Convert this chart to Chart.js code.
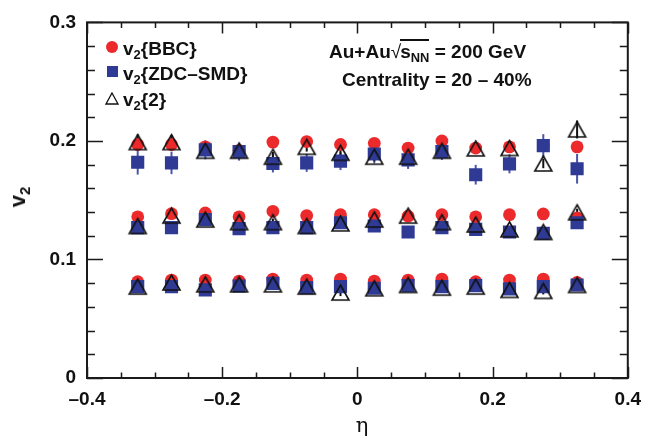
<!DOCTYPE html>
<html>
<head>
<meta charset="utf-8">
<script src="https://cdn.jsdelivr.net/npm/chart.js@4.4.1/dist/chart.umd.min.js"></script>
<style>
html, body { margin: 0; padding: 0; background: #fff; }
#wrap { position: relative; width: 651px; height: 438px; overflow: hidden; }
#chart { position: absolute; left: 0; top: 0; }
.t { position: absolute; font-family: "Liberation Sans", Arial, sans-serif; font-weight: bold;
     font-size: 19px; line-height: 1; color: #111; white-space: nowrap; }
.t sub { font-size: 0.68em; vertical-align: -0.32em; line-height: 0; }
.mk { position: absolute; }
.root { display: inline-block; border-top: 2px solid #111; padding-top: 1px; margin-left: -1px; line-height: 1; }
</style>
</head>
<body>
<div id="wrap">
  <canvas id="chart" width="651" height="438"></canvas>

  <div class="mk" style="left:106px;top:41px;width:12px;height:12px;border-radius:50%;background:#EC2A2C"></div>
  <div class="t" style="left:123px;top:39px">v<sub>2</sub>{BBC}</div>
  <div class="mk" style="left:107px;top:66px;width:11px;height:11px;background:#2F3A94"></div>
  <div class="t" style="left:123px;top:64px">v<sub>2</sub>{ZDC&#8211;SMD}</div>
  <svg class="mk" style="left:105px;top:92px" width="14" height="13"><polygon points="7,1 13,12 1,12" fill="none" stroke="#111" stroke-width="1.3"/></svg>
  <div class="t" style="left:123px;top:90px">v<sub>2</sub>{2}</div>

  <div class="t" style="left:329px;top:39px">Au+Au<span style="font-weight:normal">&#8730;</span><span class="root">s<sub>NN</sub></span> = 200 GeV</div>
  <div class="t" style="left:342px;top:70px">Centrality = 20 &#8211; 40%</div>

  <div class="t" style="left:18px;top:197px;font-size:22px;transform:translate(-50%,-50%) rotate(-90deg)">v<sub>2</sub></div>
  <div class="t" style="left:362px;top:425px;font-family:'DejaVu Serif','Liberation Serif',serif;font-weight:normal;font-size:21px;transform:translate(-50%,-50%)">&#951;</div>
</div>

<script>
// pseudorapidity bins
const eta = [-0.325, -0.275, -0.225, -0.175, -0.125, -0.075, -0.025, 0.025, 0.075, 0.125, 0.175, 0.225, 0.275, 0.325];

// v2{BBC}
const bbcHigh = [0.197, 0.197, 0.195, 0.192, 0.199, 0.1995, 0.197, 0.198, 0.194, 0.200, 0.194, 0.195, 0.196, 0.195];
const bbcMid  = [0.136, 0.1386, 0.1392, 0.136, 0.1406, 0.137, 0.1378, 0.1378, 0.1365, 0.1378, 0.136, 0.1378, 0.1384, 0.135];
const bbcLow  = [0.0812, 0.0826, 0.0826, 0.0818, 0.0834, 0.0826, 0.0834, 0.0818, 0.0826, 0.0834, 0.0812, 0.0826, 0.0834, 0.0806];

// v2{ZDC-SMD}
const zdcHigh = [0.182, 0.1815, 0.1925, 0.191, 0.181, 0.1815, 0.183, 0.189, 0.184, 0.191, 0.1715, 0.1807, 0.196, 0.1765];
const zdcMid  = [0.1268, 0.1268, 0.1337, 0.126, 0.1268, 0.1268, 0.131, 0.1282, 0.1232, 0.1268, 0.1254, 0.1232, 0.122, 0.131];
const zdcLow  = [0.0771, 0.0771, 0.0743, 0.0776, 0.0798, 0.0762, 0.0771, 0.0757, 0.0779, 0.0771, 0.0779, 0.0752, 0.0771, 0.0785];

// v2{2}
const twoHigh = [0.199, 0.199, 0.1917, 0.1917, 0.1867, 0.195, 0.190, 0.1867, 0.1867, 0.1917, 0.1937, 0.194, 0.181, 0.2097];
const twoMid  = [0.1282, 0.137, 0.1337, 0.1315, 0.1315, 0.1282, 0.1304, 0.1337, 0.137, 0.1315, 0.1295, 0.1254, 0.1232, 0.1398];
const twoLow  = [0.0771, 0.0806, 0.079, 0.079, 0.079, 0.0771, 0.0721, 0.0757, 0.0785, 0.0762, 0.0771, 0.0743, 0.0735, 0.0785];

// statistical errors
const bbcErr     = [0.003, 0.003, 0.003, 0.003, 0.003, 0.003, 0.003, 0.003, 0.003, 0.003, 0.003, 0.003, 0.003, 0.003];
const zdcErrHigh = [0.0104, 0.0095, 0.008, 0.0076, 0.0076, 0.0076, 0.0076, 0.008, 0.0076, 0.007, 0.0083, 0.008, 0.0097, 0.0125];
const zdcErrLow  = [0.004, 0.004, 0.004, 0.004, 0.004, 0.004, 0.004, 0.004, 0.004, 0.004, 0.004, 0.004, 0.004, 0.004];
const twoErrHigh = [0.0065, 0.006, 0.004, 0.004, 0.004, 0.004, 0.004, 0.004, 0.004, 0.004, 0.004, 0.004, 0.004, 0.0076];
const twoErrLow  = [0.003, 0.003, 0.003, 0.003, 0.003, 0.003, 0.003, 0.003, 0.003, 0.003, 0.003, 0.003, 0.003, 0.003];

// axis range and ticks
const xMin = -0.4, xMax = 0.4, xMajor = 0.2, xMinor = 0.05;
const yMin = 0, yMax = 0.3, yMajor = 0.1, yMinor = 0.02;

function points(vals, errs) {
  return vals.map((v, i) => ({ x: eta[i], y: v, e: errs[i] }));
}

function triangleMarker(w, h, lw) {
  const c = document.createElement('canvas');
  c.width = w + 4; c.height = h + 4;
  const g = c.getContext('2d');
  g.strokeStyle = '#111';
  g.lineWidth = lw;
  g.lineJoin = 'miter';
  g.beginPath();
  g.moveTo(c.width / 2, 2);
  g.lineTo(c.width - 2, h + 2);
  g.lineTo(2, h + 2);
  g.closePath();
  g.stroke();
  return c;
}

const errorBars = {
  id: 'errorBars',
  beforeDatasetsDraw(chart) {
    const ctx = chart.ctx, xs = chart.scales.x, ys = chart.scales.y;
    ctx.save();
    chart.data.datasets.forEach(ds => {
      ctx.strokeStyle = ds.barColor;
      ctx.lineWidth = 2;
      ds.data.forEach(p => {
        const px = xs.getPixelForValue(p.x);
        ctx.beginPath();
        ctx.moveTo(px, ys.getPixelForValue(p.y - p.e));
        ctx.lineTo(px, ys.getPixelForValue(p.y + p.e));
        ctx.stroke();
      });
    });
    ctx.restore();
  }
};

// ROOT style frame with inward ticks on all sides
const frame = {
  id: 'frame',
  afterDraw(chart) {
    const ctx = chart.ctx, a = chart.chartArea, xs = chart.scales.x, ys = chart.scales.y;
    ctx.save();
    ctx.strokeStyle = '#1a1a1a';
    ctx.lineWidth = 1.5;
    ctx.beginPath();
    const nx = Math.round((xMax - xMin) / xMinor);
    for (let i = 0; i <= nx; i++) {
      const px = Math.round(xs.getPixelForValue(xMin + i * xMinor)) + 0.5;
      const len = (i % Math.round(xMajor / xMinor) === 0) ? 11 : 5.5;
      ctx.moveTo(px, a.bottom); ctx.lineTo(px, a.bottom - len);
      ctx.moveTo(px, a.top); ctx.lineTo(px, a.top + len);
    }
    const ny = Math.round((yMax - yMin) / yMinor);
    for (let i = 0; i <= ny; i++) {
      const py = Math.round(ys.getPixelForValue(yMin + i * yMinor)) + 0.5;
      const len = (i % Math.round(yMajor / yMinor) === 0) ? 16 : 8;
      ctx.moveTo(a.left, py); ctx.lineTo(a.left + len, py);
      ctx.moveTo(a.right, py); ctx.lineTo(a.right - len, py);
    }
    ctx.stroke();
    ctx.lineWidth = 2;
    ctx.strokeRect(a.left, a.top, a.right - a.left, a.bottom - a.top);
    ctx.restore();
  }
};

const tickFont = { family: 'Liberation Sans', weight: 'bold', size: 19 };

var ctx = document.getElementById('chart').getContext('2d');
var chart = new Chart(ctx, {
  type: 'scatter',
  data: {
    datasets: [
      {
        label: 'v2{BBC}',
        data: points(bbcHigh, bbcErr).concat(points(bbcMid, bbcErr), points(bbcLow, bbcErr)),
        pointStyle: 'circle', pointRadius: 6.4, pointBorderWidth: 0,
        backgroundColor: '#EC2A2C', borderColor: '#EC2A2C',
        barColor: '#EC2A2C', order: 3
      },
      {
        label: 'v2{ZDC-SMD}',
        data: points(zdcHigh, zdcErrHigh).concat(points(zdcMid, zdcErrLow), points(zdcLow, zdcErrLow)),
        pointStyle: 'rect', pointRadius: 9.3, pointBorderWidth: 0,
        backgroundColor: '#2F3A94', borderColor: '#2F3A94',
        barColor: '#4B56A8', order: 2
      },
      {
        label: 'v2{2}',
        data: points(twoHigh, twoErrHigh).concat(points(twoMid, twoErrLow), points(twoLow, twoErrLow)),
        pointStyle: triangleMarker(17, 15, 1.6), pointRadius: 8,
        backgroundColor: 'rgba(0,0,0,0)', borderColor: '#111',
        barColor: '#111', order: 1
      }
    ]
  },
  options: {
    responsive: false,
    animation: false,
    events: [],
    layout: { padding: { top: 16, right: 17, left: 0, bottom: 0 } },
    plugins: { legend: { display: false }, tooltip: { enabled: false } },
    scales: {
      x: {
        type: 'linear', min: xMin, max: xMax,
        grid: { display: false, drawTicks: false },
        border: { display: false },
        ticks: {
          stepSize: xMajor, padding: 10, color: '#111', font: tickFont,
          callback: v => Math.abs(v) < 1e-9 ? '0' : (v < 0 ? '\u2013' : '') + Math.abs(v).toFixed(1)
        },
        afterFit(s) { s.height = 60; }
      },
      y: {
        type: 'linear', min: yMin, max: yMax,
        grid: { display: false, drawTicks: false },
        border: { display: false },
        ticks: {
          stepSize: yMajor, padding: 11, color: '#111', font: tickFont,
          callback: v => Math.abs(v) < 1e-9 ? '0' : v.toFixed(1)
        },
        afterFit(s) { s.width = 87; }
      }
    }
  },
  plugins: [errorBars, frame]
});
</script>
</body>
</html>
